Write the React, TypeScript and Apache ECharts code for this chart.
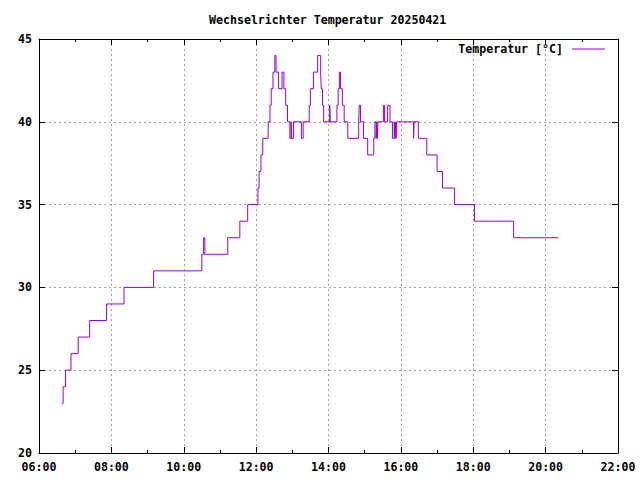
import React, { useEffect, useRef } from "react";
import * as echarts from "echarts";

const TITLE = "Wechselrichter Temperatur 20250421";
const SERIES_NAME = "Temperatur [°C]";

// change points: the temperature holds from this time until the next entry
const TIMES = [
  "06:38", "06:40", "06:44", "06:53", "07:05", "07:24", "07:52", "08:21", "09:10", "10:30",
  "10:33", "10:35", "11:13", "11:33", "11:46", "12:03", "12:05", "12:08", "12:11", "12:20",
  "12:23", "12:25", "12:28", "12:31", "12:33", "12:37", "12:43", "12:46", "12:49", "12:52",
  "12:56", "12:58", "12:59", "13:02", "13:15", "13:18", "13:28", "13:30", "13:35", "13:42",
  "13:47", "13:48", "13:50", "13:52", "14:02", "14:03", "14:14", "14:16", "14:18", "14:20",
  "14:23", "14:26", "14:32", "14:50", "14:51", "14:53", "14:58", "15:05", "15:15", "15:17",
  "15:19", "15:20", "15:21", "15:22", "15:31", "15:33", "15:38", "15:42", "15:46", "15:49",
  "15:50", "15:51", "15:52", "15:53", "16:21", "16:22", "16:29", "16:43", "17:00", "17:09",
  "17:29", "18:02", "19:07", "20:21",
];
const TEMPS = [
  23, 24, 25, 26, 27, 28, 29, 30, 31, 32,
  33, 32, 33, 34, 35, 36, 37, 38, 39, 40,
  41, 42, 43, 44, 43, 42, 43, 42, 41, 40,
  39, 40, 39, 40, 39, 40, 41, 42, 43, 44,
  43, 42, 41, 40, 41, 40, 41, 42, 43, 42,
  41, 40, 39, 40, 41, 40, 39, 38, 39, 40,
  39, 40, 39, 40, 41, 40, 41, 40, 39, 40,
  39, 40, 39, 40, 39, 40, 39, 38, 37, 36,
  35, 34, 33, 33,
];

const X_MIN = 6;
const X_MAX = 22;
const X_STEP = 2;
const Y_MIN = 20;
const Y_MAX = 45;
const Y_STEP = 5;

const FONT = "'DejaVu Sans Mono', 'Liberation Mono', monospace";
const LINE_COLOR = "#9400d3";
const GRID_COLOR = "#a0a0a0";

function toHours(s: string): number {
  const [h, m] = s.split(":").map(Number);
  return h + m / 60;
}
function fmtHour(v: number): string {
  return String(Math.round(v)).padStart(2, "0") + ":00";
}

const textStyle = { fontFamily: FONT, fontSize: 11.6, fontWeight: "bold" as const, color: "#000" };

export default function App() {
  const ref = useRef<HTMLDivElement>(null);
  useEffect(() => {
    if (!ref.current) return;
    const chart = echarts.init(ref.current, undefined, { renderer: "svg" });
    const axisLine = { show: true, onZero: false, lineStyle: { color: "#000", width: 1 } };
    const tick = { show: true, inside: true, length: 6, lineStyle: { color: "#000", width: 1 } };
    const minor = { show: true, splitNumber: 2, length: 3, lineStyle: { color: "#000", width: 1 } };
    const split = { show: true, lineStyle: { color: GRID_COLOR, width: 1, type: [2, 3] } };
    chart.setOption({
      animation: false,
      backgroundColor: "#ffffff",
      title: {
        text: TITLE,
        left: 209,
        top: 14,
        padding: 0,
        textStyle: { ...textStyle },
      },
      legend: {
        data: [SERIES_NAME],
        right: 35,
        top: 43,
        padding: 0,
        align: "right",
        icon: "rect",
        itemWidth: 33,
        itemHeight: 1,
        textStyle: { ...textStyle, padding: [0, 4, 0, 0] },
      },
      grid: { left: 39, right: 22, top: 39, bottom: 27, containLabel: false },
      xAxis: [
        {
          type: "value",
          min: X_MIN,
          max: X_MAX,
          interval: X_STEP,
          position: "bottom",
          axisLine,
          axisTick: tick,
          minorTick: minor,
          splitLine: split,
          axisLabel: {
            ...textStyle,
            margin: 8,
            formatter: fmtHour,
            showMinLabel: true,
            showMaxLabel: true,
          },
        },
        {
          type: "value",
          min: X_MIN,
          max: X_MAX,
          interval: X_STEP,
          position: "top",
          axisLine,
          axisTick: tick,
          minorTick: minor,
          splitLine: { show: false },
          axisLabel: { show: false },
        },
      ],
      yAxis: [
        {
          type: "value",
          min: Y_MIN,
          max: Y_MAX,
          interval: Y_STEP,
          position: "left",
          axisLine,
          axisTick: tick,
          splitLine: split,
          axisLabel: { ...textStyle, margin: 7, showMinLabel: true, showMaxLabel: true },
        },
        {
          type: "value",
          min: Y_MIN,
          max: Y_MAX,
          interval: Y_STEP,
          position: "right",
          axisLine,
          axisTick: tick,
          splitLine: { show: false },
          axisLabel: { show: false },
        },
      ],
      series: [
        {
          type: "line",
          name: SERIES_NAME,
          xAxisIndex: 0,
          yAxisIndex: 0,
          step: "end",
          symbol: "none",
          showSymbol: false,
          data: TIMES.map((t, i) => [toHours(t), TEMPS[i]]),
          lineStyle: { color: LINE_COLOR, width: 1 },
          itemStyle: { color: LINE_COLOR },
        },
      ],
    });
    return () => chart.dispose();
  }, []);
  return (
    <div
      ref={ref}
      style={{ position: "fixed", left: 0, top: 0, width: 640, height: 480, background: "#fff" }}
    />
  );
}
